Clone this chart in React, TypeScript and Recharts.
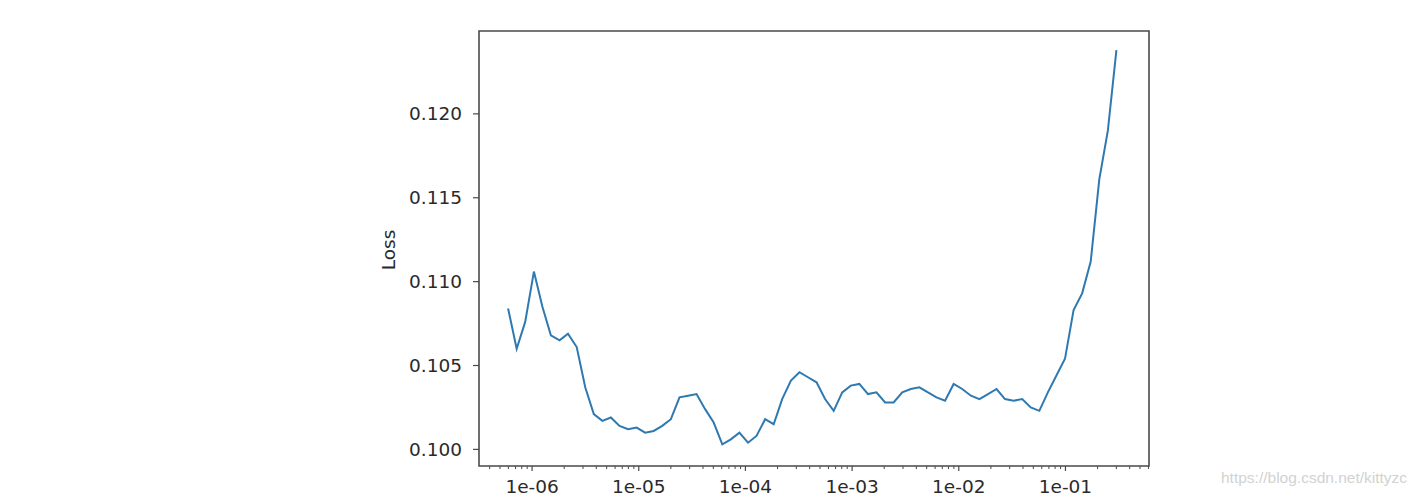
import React from "react";
import { LineChart, Line, XAxis, YAxis, ReferenceArea } from "recharts";

// learning rates (log spaced)
const learningRates = [
  5.96e-7, 7.17e-7, 8.62e-7, 1.04e-6, 1.25e-6, 1.5e-6, 1.81e-6, 2.17e-6,
  2.62e-6, 3.15e-6, 3.79e-6, 4.56e-6, 5.48e-6, 6.6e-6, 7.94e-6, 9.55e-6,
  1.148e-5, 1.38e-5, 1.66e-5, 2.0e-5, 2.41e-5, 2.9e-5, 3.48e-5, 4.19e-5,
  5.04e-5, 6.07e-5, 7.3e-5, 8.78e-5, 1.057e-4, 1.27e-4, 1.53e-4, 1.84e-4,
  2.21e-4, 2.67e-4, 3.21e-4, 3.86e-4, 4.64e-4, 5.58e-4, 6.72e-4, 8.08e-4,
  9.72e-4, 1.17e-3, 1.41e-3, 1.69e-3, 2.04e-3, 2.45e-3, 2.95e-3, 3.55e-3,
  4.27e-3, 5.14e-3, 6.18e-3, 7.44e-3, 8.95e-3, 1.077e-2, 1.3e-2, 1.56e-2,
  1.88e-2, 2.26e-2, 2.71e-2, 3.27e-2, 3.93e-2, 4.73e-2, 5.69e-2, 6.84e-2,
  8.23e-2, 9.9e-2, 0.1192, 0.1434, 0.1725, 0.2076, 0.2497, 0.3004,
];

const lossValues = [
  0.1084, 0.106, 0.1076, 0.1106, 0.1085, 0.1068, 0.1065, 0.1069,
  0.1061, 0.1037, 0.1021, 0.1017, 0.1019, 0.1014, 0.1012, 0.1013,
  0.101, 0.1011, 0.1014, 0.1018, 0.1031, 0.1032, 0.1033, 0.1024,
  0.1016, 0.1003, 0.1006, 0.101, 0.1004, 0.1008, 0.1018, 0.1015,
  0.103, 0.1041, 0.1046, 0.1043, 0.104, 0.103, 0.1023, 0.1034,
  0.1038, 0.1039, 0.1033, 0.1034, 0.1028, 0.1028, 0.1034, 0.1036,
  0.1037, 0.1034, 0.1031, 0.1029, 0.1039, 0.1036, 0.1032, 0.103,
  0.1033, 0.1036, 0.103, 0.1029, 0.103, 0.1025, 0.1023, 0.1034,
  0.1044, 0.1054, 0.1083, 0.1093, 0.1112, 0.1161, 0.119, 0.1238,
];

const xMajorTicks = [1e-6, 1e-5, 1e-4, 1e-3, 1e-2, 1e-1];
const xTickLabels = ["1e-06", "1e-05", "1e-04", "1e-03", "1e-02", "1e-01"];
const yTicks = [0.1, 0.105, 0.11, 0.115, 0.12];
const yTickLabels = ["0.100", "0.105", "0.110", "0.115", "0.120"];

const xDomain: [number, number] = [3.18e-7, 0.607];
const yDomain: [number, number] = [0.09901, 0.12494];

const data = learningRates.map((lr, i) => ({ lr, loss: lossValues[i] }));

// log minor ticks 2..9 in each decade inside the domain
const minorTicks: number[] = [];
[1e-7, ...xMajorTicks].forEach((d) => {
  for (let m = 2; m <= 9; m++) {
    const v = m * d;
    if (v > xDomain[0] && v < xDomain[1]) minorTicks.push(v);
  }
});
const allXTicks = [...xMajorTicks, ...minorTicks].sort((a, b) => a - b);

const font = "'DejaVu Sans', sans-serif";
const textColor = "#2a2a2a";
const axisColor = "#4a4a4a";
const fontSize = 18.5;

const XTick = (props: any) => {
  const { x, y, payload } = props;
  const idx = xMajorTicks.indexOf(payload.value);
  if (idx < 0) {
    return <line x1={x} x2={x} y1={y} y2={y + 3} stroke={axisColor} strokeWidth={1} />;
  }
  return (
    <g>
      <line x1={x} x2={x} y1={y} y2={y + 5} stroke={axisColor} strokeWidth={1.2} />
      <text
        x={x}
        y={y + 14}
        dy="0.71em"
        textAnchor="middle"
        fill={textColor}
        fontFamily={font}
        fontSize={fontSize}
      >
        {xTickLabels[idx]}
      </text>
    </g>
  );
};

const LossLabel = () => (
  <text
    x={395}
    y={250}
    transform="rotate(-90, 395, 250)"
    textAnchor="middle"
    fill={textColor}
    fontFamily={font}
    fontSize={fontSize}
  >
    Loss
  </text>
);

export default function App() {
  return (
    <div
      style={{
        position: "absolute",
        left: 0,
        top: 0,
        width: 1418,
        height: 496,
        background: "#fff",
        overflow: "hidden",
      }}
    >
      <LineChart
        width={1418}
        height={496}
        data={data}
        margin={{ top: 31, right: 269, bottom: 0, left: 0 }}
      >
        <XAxis
          dataKey="lr"
          type="number"
          scale="log"
          domain={xDomain}
          allowDataOverflow
          ticks={allXTicks}
          interval={0}
          tick={<XTick />}
          tickLine={false}
          axisLine={false}
          tickSize={0}
          tickMargin={0}
          height={30}
        />
        <YAxis
          type="number"
          domain={yDomain}
          allowDataOverflow
          ticks={yTicks}
          interval={0}
          tickFormatter={(v: number) => yTickLabels[yTicks.indexOf(v)] ?? ""}
          tick={{ fill: textColor, fontFamily: font, fontSize }}
          tickLine={{ stroke: axisColor, strokeWidth: 1.2 }}
          tickSize={6}
          tickMargin={11}
          axisLine={false}
          width={479}
          label={{ content: <LossLabel /> }}
        />
        <ReferenceArea
          x1={xDomain[0]}
          x2={xDomain[1]}
          y1={yDomain[0]}
          y2={yDomain[1]}
          fill="none"
          stroke={axisColor}
          strokeWidth={1.6}
          ifOverflow="visible"
        />
        <Line
          type="linear"
          dataKey="loss"
          stroke="#2f79b1"
          strokeWidth={2}
          dot={false}
          isAnimationActive={false}
        />
      </LineChart>
      <div
        style={{
          position: "absolute",
          left: 1221,
          top: 469,
          fontFamily: "'Liberation Sans', Arial, sans-serif",
          fontSize: 15.5,
          color: "#d2d2d2",
          whiteSpace: "nowrap",
        }}
      >
        https://blog.csdn.net/kittyzc
      </div>
    </div>
  );
}
